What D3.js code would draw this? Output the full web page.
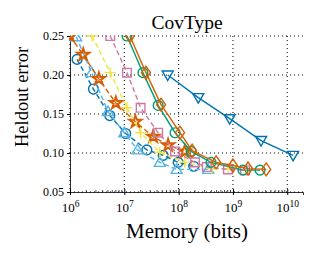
<!DOCTYPE html>
<html>
<head>
<meta charset="utf-8">
<script src="https://cdn.jsdelivr.net/npm/d3@7"></script>
<style>
  body { margin: 0; background: #fff; }
  text { font-family: "Liberation Serif", "DejaVu Serif", serif; }
</style>
</head>
<body>
<svg id="chart" width="319" height="257"></svg>
<script>
// memory (bits) on log scale, heldout error
const blueTriMem = [6.3e7, 2.3e8, 8.7e8, 3.3e9, 1.28e10];
const blueTriErr = [0.200, 0.171, 0.144, 0.116, 0.097];

const greenCircMem = [1.12e7, 2.2e7, 4.2e7, 8.6e7, 1.7e8, 3.95e8, 1.53e9, 3.15e9];
const greenCircErr = [0.250, 0.203, 0.161, 0.126, 0.102, 0.088, 0.078, 0.078];

const orangeDiaMem = [1.27e7, 2.5e7, 4.75e7, 1.06e8, 1.77e8, 4.9e8, 1.0e9, 1.9e9, 4.1e9];
const orangeDiaErr = [0.250, 0.203, 0.162, 0.126, 0.103, 0.088, 0.084, 0.080, 0.079];

const pinkSqMem = [5.5e6, 1.12e7, 2.0e7, 4.2e7, 8.6e7, 2.0e8, 3.3e8, 8.1e8, 1.67e9];
const pinkSqErr = [0.250, 0.203, 0.158, 0.126, 0.102, 0.088, 0.082, 0.079, 0.078];

const yellowPlusMem = [2.55e6, 5.5e6, 1.12e7, 2.0e7, 4.5e7, 1.3e8, 4.1e8, 8.1e8];
const yellowPlusErr = [0.250, 0.203, 0.158, 0.126, 0.101, 0.088, 0.080, 0.080];

const orangeStarMem = [1.0e6, 1.75e6, 3.4e6, 7.0e6, 1.6e7, 3.4e7, 6.4e7, 1.3e8];
const orangeStarErr = [0.250, 0.226, 0.195, 0.164, 0.140, 0.121, 0.110, 0.102];

const ltBlueTriMem = [1.3e6, 2.5e6, 5.0e6, 1.0e7, 1.75e7, 4.5e7, 9.2e7, 3.5e8];
const ltBlueTriErr = [0.249, 0.203, 0.153, 0.126, 0.104, 0.088, 0.079, 0.079];

const blueCircMem = [1.35e6, 2.7e6, 5.4e6, 1.06e7, 2.6e7, 5.2e7, 9.8e7, 1.9e8];
const blueCircErr = [0.220, 0.182, 0.148, 0.125, 0.104, 0.097, 0.088, 0.083];

const yTicks = [0.05, 0.10, 0.15, 0.20, 0.25];
const xTicks = [1e6, 1e7, 1e8, 1e9, 1e10];

const series = [
  { mem: blueCircMem, err: blueCircErr, color: "#0072B2", marker: "circle", dash: "5,3" },
  { mem: ltBlueTriMem, err: ltBlueTriErr, color: "#56B4E9", marker: "triUp", dash: "5,3" },
  { mem: orangeStarMem, err: orangeStarErr, color: "#D55E00", marker: "star", dash: "5,3" },
  { mem: yellowPlusMem, err: yellowPlusErr, color: "#F0E442", marker: "plus", dash: "5,3" },
  { mem: pinkSqMem, err: pinkSqErr, color: "#CC79A7", marker: "square", dash: "5,3" },
  { mem: greenCircMem, err: greenCircErr, color: "#009E73", marker: "circle", dash: null },
  { mem: orangeDiaMem, err: orangeDiaErr, color: "#D55E00", marker: "diamond", dash: null },
  { mem: blueTriMem, err: blueTriErr, color: "#0072B2", marker: "triDown", dash: null },
];

const margin = { top: 36, right: 16, bottom: 65, left: 70 };
const width = 319 - margin.left - margin.right;
const height = 257 - margin.top - margin.bottom;

const svg = d3.select("#chart");
const g = svg.append("g").attr("transform", `translate(${margin.left},${margin.top})`);

const x = d3.scaleLog().domain([1e6, 1.95e10]).range([0, width]);
const y = d3.scaleLinear().domain([0.05, 0.25]).range([height, 0]);

svg.append("defs").append("clipPath").attr("id", "clip")
  .append("rect").attr("x", -1).attr("y", -1).attr("width", width + 2).attr("height", height + 1);

// gridlines
g.append("g")
  .selectAll("line")
  .data(xTicks)
  .enter()
  .append("line")
  .attr("x1", (d) => x(d)).attr("x2", (d) => x(d))
  .attr("y1", 0).attr("y2", height)
  .attr("stroke", "#000").attr("stroke-width", 1).attr("stroke-dasharray", "1,3");

g.append("g")
  .selectAll("line")
  .data(yTicks)
  .enter()
  .append("line")
  .attr("x1", 0).attr("x2", width)
  .attr("y1", (d) => y(d)).attr("y2", (d) => y(d))
  .attr("stroke", "#000").attr("stroke-width", 1).attr("stroke-dasharray", "1,3");

// minor ticks on x axis
const minor = [];
for (let e = 6; e <= 10; e++) {
  for (let k = 2; k <= 9; k++) {
    const v = k * Math.pow(10, e);
    if (v < x.domain()[1]) minor.push(v);
  }
}
g.append("g")
  .selectAll("line")
  .data(minor)
  .enter()
  .append("line")
  .attr("x1", (d) => x(d)).attr("x2", (d) => x(d))
  .attr("y1", height).attr("y2", height - 2)
  .attr("stroke", "#000").attr("stroke-width", 0.7);

// axes
const xAxis = g.append("g")
  .attr("transform", `translate(0,${height})`)
  .call(d3.axisBottom(x).tickValues(xTicks).tickSize(3).tickFormat(""));
xAxis.select(".domain").attr("stroke-width", 0.8);
xAxis.selectAll(".tick line").attr("y1", -3);

xAxis.selectAll(".tick")
  .append("text")
  .attr("y", 20)
  .attr("fill", "#000")
  .attr("text-anchor", "middle")
  .style("font-size", "13px")
  .each(function (d) {
    const t = d3.select(this);
    t.append("tspan").text("10");
    t.append("tspan").attr("dy", -5).style("font-size", "9.5px").text(Math.round(Math.log10(d)));
  });

const yAxis = g.append("g")
  .call(d3.axisLeft(y).tickValues(yTicks).tickSize(3).tickFormat(d3.format(".2f")));
yAxis.select(".domain").attr("stroke-width", 0.8);
yAxis.selectAll(".tick text").attr("x", -6).style("font-size", "12px").attr("fill", "#000");

// lines and markers
const line = d3.line().x((d) => x(d[0])).y((d) => y(d[1]));
const plot = g.append("g").attr("clip-path", "url(#clip)");

function markerPath(type) {
  switch (type) {
    case "circle": return d3.symbol().type(d3.symbolCircle).size(75)();
    case "square": return d3.symbol().type(d3.symbolSquare).size(75)();
    case "plus": return "M-5.5,0H5.5M0,-5.5V5.5";
    case "star": return d3.symbol().type(d3.symbolStar).size(45)();
    case "diamond": return "M0,-6.5L4.5,0L0,6.5L-4.5,0Z";
    case "triUp": return "M0,-5.5L5.5,4L-5.5,4Z";
    case "triDown": return "M0,5.5L5.5,-4L-5.5,-4Z";
  }
}

series.forEach((s) => {
  const pts = s.mem.map((m, i) => [m, s.err[i]]);
  plot.append("path")
    .datum(pts)
    .attr("d", line)
    .attr("fill", "none")
    .attr("stroke", s.color)
    .attr("stroke-width", 1.4)
    .attr("stroke-dasharray", s.dash);
  plot.append("g")
    .selectAll("path")
    .data(pts)
    .enter()
    .append("path")
    .attr("transform", (d) => `translate(${x(d[0])},${y(d[1])})`)
    .attr("d", markerPath(s.marker))
    .attr("fill", "none")
    .attr("stroke", s.color)
    .attr("stroke-width", s.marker === "star" ? 2 : 1.4);
});

// title and labels
svg.append("text")
  .attr("x", 187)
  .attr("y", 29)
  .attr("text-anchor", "middle")
  .style("font-size", "19.5px")
  .text("CovType");

svg.append("text")
  .attr("transform", "translate(28,97) rotate(-90)")
  .attr("text-anchor", "middle")
  .style("font-size", "18.5px")
  .text("Heldout error");

svg.append("text")
  .attr("x", 187)
  .attr("y", 238)
  .attr("text-anchor", "middle")
  .style("font-size", "21px")
  .text("Memory (bits)");
</script>
</body>
</html>
